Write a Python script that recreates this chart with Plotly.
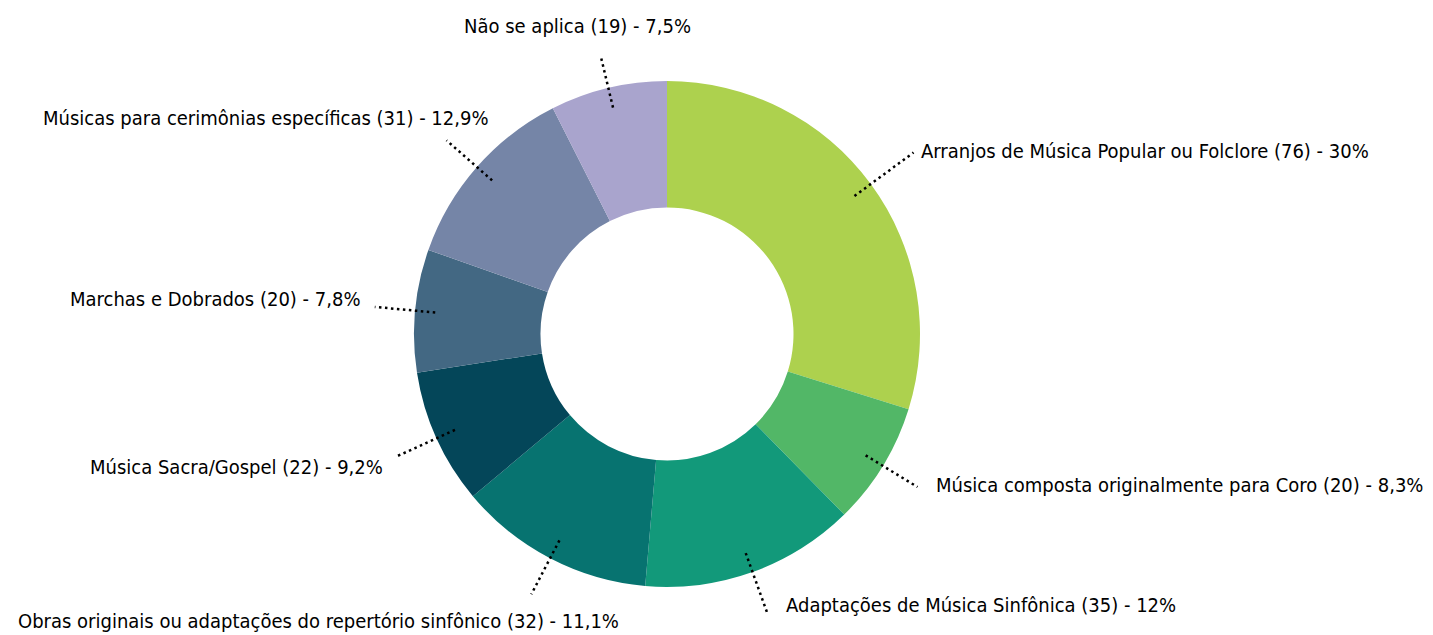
import math
import plotly.graph_objects as go

# ---- data ----
categories = [
    "Arranjos de Música Popular ou Folclore",
    "Música composta originalmente para Coro",
    "Adaptações de Música Sinfônica",
    "Obras originais ou adaptações do repertório sinfônico",
    "Música Sacra/Gospel",
    "Marchas e Dobrados",
    "Músicas para cerimônias específicas",
    "Não se aplica",
]
counts = [76, 20, 35, 32, 22, 20, 31, 19]
pct_labels = ["30%", "8,3%", "12%", "11,1%", "9,2%", "7,8%", "12,9%", "7,5%"]

# ---- style ----
colors = ["#ADD14E", "#52B767", "#12997A", "#077370", "#044659", "#436883", "#7585A7", "#A9A4CD"]
W, H = 1433, 635
CX, CY, R = 667, 334, 253
TOP, BOT = CY - R, CY + R
leader_in = 0.92
leader_out = [1.21, 1.16, 1.17, 1.16, 1.17, 1.16, 1.16, 1.12]
# (xanchor, xshift px, yshift px down)
label_style = [
    ("left", 5, -2),
    ("left", 17, -2),
    ("left", 17, -8),
    ("right", 90, 27),
    ("right", -12, 11),
    ("right", -12, -8),
    ("right", 45, -22),
    ("center", -24, -32),
]
FONT = "DejaVu Sans Condensed, Liberation Sans Narrow, Roboto, sans-serif"

fig = go.Figure()
fig.add_trace(go.Pie(
    labels=categories, values=counts, hole=0.5, sort=False, direction="clockwise",
    rotation=0, textinfo="none", hoverinfo="label+value+percent",
    marker=dict(colors=colors, line=dict(width=0)),
    domain=dict(x=[(CX - R) / W, (CX + R) / W], y=[0, 1]),
    showlegend=False,
))

def to_paper(px, py):
    return px / W, (BOT - py) / (BOT - TOP)

total = sum(counts)
cum = 0
shapes, annotations = [], []
for i, (cat, v, p) in enumerate(zip(categories, counts, pct_labels)):
    mid = (cum + v / 2) / total * 2 * math.pi
    cum += v
    dx, dy = math.sin(mid), -math.cos(mid)
    x0, y0 = CX + dx * R * leader_in, CY + dy * R * leader_in
    x1, y1 = CX + dx * R * leader_out[i], CY + dy * R * leader_out[i]
    px0, py0 = to_paper(x0, y0)
    px1, py1 = to_paper(x1, y1)
    shapes.append(dict(type="line", xref="paper", yref="paper", x0=px0, y0=py0, x1=px1, y1=py1,
                       line=dict(color="#000000", width=2.5, dash="2.5px,3.5px")))
    xa, xs, ys = label_style[i]
    annotations.append(dict(
        x=px1, y=py1, xref="paper", yref="paper", text=f"{cat} ({v}) - {p}",
        showarrow=False, xanchor=xa, yanchor="middle", xshift=xs, yshift=-ys,
        font=dict(family=FONT, size=20, color="#000000"),
    ))

fig.update_layout(
    width=W, height=H, margin=dict(l=0, r=0, t=TOP, b=H - BOT),
    paper_bgcolor="white", plot_bgcolor="white",
    shapes=shapes, annotations=annotations,
)
fig.write_html("out.html", config={"displayModeBar": False},
               post_script="document.body.style.margin='0';")
